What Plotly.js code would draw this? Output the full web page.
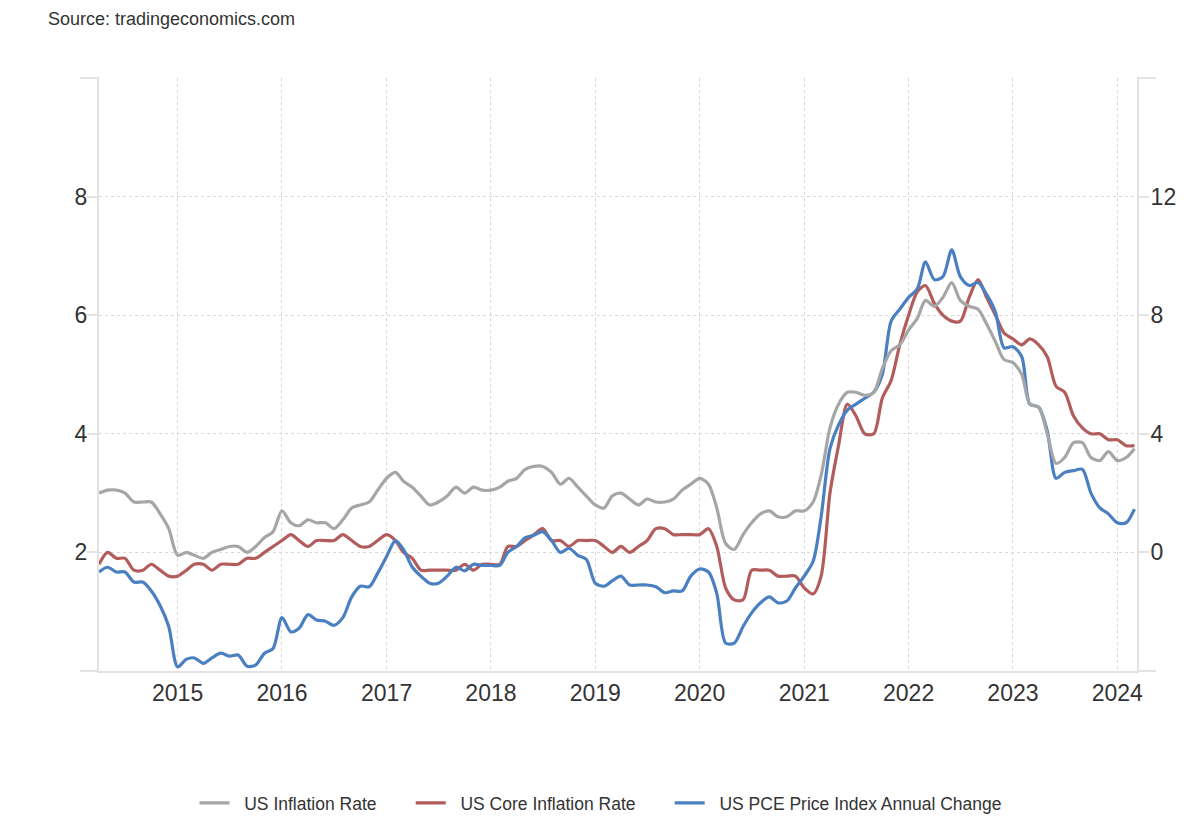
<!DOCTYPE html>
<html>
<head>
<meta charset="utf-8">
<script src="https://cdn.plot.ly/plotly-3.0.1.min.js"></script>
<style>
  html, body { margin: 0; padding: 0; background: #ffffff; }
  #chart { width: 1200px; height: 820px; }
</style>
</head>
<body>
<div id="chart"></div>
<script>
// Monthly observations, April 2014 – March 2024
const startYear = 2014, startMonth = 4, monthCount = 120;

// US Inflation Rate (CPI YoY, %) – right axis
const cpi = [
  2.0, 2.1, 2.1, 2.0, 1.7, 1.7, 1.7, 1.3, 0.8,                 // 2014 Apr–Dec
  -0.1, 0.0, -0.1, -0.2, 0.0, 0.1, 0.2, 0.2, 0.0, 0.2, 0.5, 0.7, // 2015
  1.4, 1.0, 0.9, 1.1, 1.0, 1.0, 0.8, 1.1, 1.5, 1.6, 1.7, 2.1,    // 2016
  2.5, 2.7, 2.4, 2.2, 1.9, 1.6, 1.7, 1.9, 2.2, 2.0, 2.2, 2.1,    // 2017
  2.1, 2.2, 2.4, 2.5, 2.8, 2.9, 2.9, 2.7, 2.3, 2.5, 2.2, 1.9,    // 2018
  1.6, 1.5, 1.9, 2.0, 1.8, 1.6, 1.8, 1.7, 1.7, 1.8, 2.1, 2.3,    // 2019
  2.5, 2.3, 1.5, 0.3, 0.1, 0.6, 1.0, 1.3, 1.4, 1.2, 1.2, 1.4,    // 2020
  1.4, 1.7, 2.6, 4.2, 5.0, 5.4, 5.4, 5.3, 5.4, 6.2, 6.8, 7.0,    // 2021
  7.5, 7.9, 8.5, 8.3, 8.6, 9.1, 8.5, 8.3, 8.2, 7.7, 7.1, 6.5,    // 2022
  6.4, 6.0, 5.0, 4.9, 4.0, 3.0, 3.2, 3.7, 3.7, 3.2, 3.1, 3.4,    // 2023
  3.1, 3.2, 3.5                                                  // 2024 Jan–Mar
];

// US Core Inflation Rate (%) – left axis
const core = [
  1.8, 2.0, 1.9, 1.9, 1.7, 1.7, 1.8, 1.7, 1.6,
  1.6, 1.7, 1.8, 1.8, 1.7, 1.8, 1.8, 1.8, 1.9, 1.9, 2.0, 2.1,
  2.2, 2.3, 2.2, 2.1, 2.2, 2.2, 2.2, 2.3, 2.2, 2.1, 2.1, 2.2,
  2.3, 2.2, 2.0, 1.9, 1.7, 1.7, 1.7, 1.7, 1.7, 1.8, 1.7, 1.8,
  1.8, 1.8, 2.1, 2.1, 2.2, 2.3, 2.4, 2.2, 2.2, 2.1, 2.2, 2.2,
  2.2, 2.1, 2.0, 2.1, 2.0, 2.1, 2.2, 2.4, 2.4, 2.3, 2.3, 2.3,
  2.3, 2.4, 2.1, 1.4, 1.2, 1.2, 1.7, 1.7, 1.7, 1.6, 1.6, 1.6,
  1.4, 1.3, 1.6, 3.0, 3.8, 4.5, 4.3, 4.0, 4.0, 4.6, 4.9, 5.5,
  6.0, 6.4, 6.5, 6.2, 6.0, 5.9, 5.9, 6.3, 6.6, 6.3, 6.0, 5.7,
  5.6, 5.5, 5.6, 5.5, 5.3, 4.8, 4.7, 4.3, 4.1, 4.0, 4.0, 3.9,
  3.9, 3.8, 3.8
];

// US PCE Price Index Annual Change (%) – left axis
const pce = [
  1.67, 1.75, 1.67, 1.67, 1.5, 1.5, 1.35, 1.1, 0.75,
  0.07, 0.2, 0.22, 0.13, 0.22, 0.3, 0.25, 0.27, 0.08, 0.1, 0.3, 0.38,
  0.9, 0.66, 0.72, 0.95, 0.86, 0.84, 0.77, 0.9, 1.25, 1.43, 1.42, 1.65,
  1.93, 2.2, 2.05, 1.75, 1.6, 1.48, 1.48, 1.6, 1.75, 1.69, 1.8, 1.78,
  1.78, 1.78, 2.0, 2.1, 2.25, 2.29, 2.35, 2.2, 2.0, 2.07, 1.95, 1.88,
  1.48, 1.43, 1.52, 1.6, 1.45, 1.45, 1.45, 1.42, 1.32, 1.35, 1.35, 1.6,
  1.72, 1.67, 1.31, 0.47, 0.47, 0.75, 0.98, 1.15, 1.25, 1.15, 1.18, 1.4,
  1.6, 1.85, 2.6, 3.75, 4.15, 4.4, 4.5, 4.6, 4.7, 5.0, 5.9, 6.1,
  6.3, 6.45, 6.9, 6.6, 6.65, 7.1, 6.65, 6.5, 6.55, 6.35, 6.05, 5.45,
  5.47, 5.3, 4.5, 4.45, 4.05, 3.25, 3.35, 3.38, 3.4, 3.0, 2.75, 2.65,
  2.5, 2.5, 2.73
];

const seriesNames = ["US Inflation Rate", "US Core Inflation Rate", "US PCE Price Index Annual Change"];
const seriesColors = ["#a6a6a6", "#b35c5c", "#4a7fc1"];

const yearTicks = ["2015", "2016", "2017", "2018", "2019", "2020", "2021", "2022", "2023", "2024"];
const leftTicks = [2, 4, 6, 8, 10];
const leftTickText = ["2", "4", "6", "8", ""];
const rightTicks = [0, 4, 8, 12];

// build month dates
const dates = [];
for (let i = 0; i < monthCount; i++) {
  const m0 = startMonth - 1 + i;
  const y = startYear + Math.floor(m0 / 12);
  const m = (m0 % 12) + 1;
  dates.push(y + "-" + String(m).padStart(2, "0") + "-01");
}

const FONT = '"Liberation Sans", Arial, Helvetica, sans-serif';
const lineStyle = (c) => ({ color: c, width: 3.2, shape: "spline", smoothing: 0.8 });

// legend spacing: non-breaking spaces around entry names
const NB = "\u00a0";
const legendLabel = (s, last) => NB + NB + s + (last ? "" : NB.repeat(6));

const traces = [
  { x: dates, y: cpi, name: legendLabel(seriesNames[0]), type: "scatter", mode: "lines", yaxis: "y2", line: lineStyle(seriesColors[0]) },
  { x: dates, y: core, name: legendLabel(seriesNames[1]), type: "scatter", mode: "lines", yaxis: "y", line: lineStyle(seriesColors[1]) },
  { x: dates, y: pce, name: legendLabel(seriesNames[2], true), type: "scatter", mode: "lines", yaxis: "y", line: lineStyle(seriesColors[2]) }
];

const plotW = 1200 - 99 - 63;
const plotH = 820 - 78 - 149;
const ext = 19 / plotW;
const axisCol = "#e3e3e3";
const gridCol = "#d9d9d9";

const layout = {
  width: 1200, height: 820,
  margin: { l: 99, r: 63, t: 78, b: 149, pad: 0, autoexpand: false },
  paper_bgcolor: "#ffffff", plot_bgcolor: "#ffffff",
  font: { family: FONT, color: "#333333" },
  showlegend: true,
  legend: {
    orientation: "h", x: 0.5 - 17 / plotW, xanchor: "center",
    y: (671 - 803) / plotH, yanchor: "middle",
    font: { family: FONT, size: 17.5, color: "#333333" },
    itemwidth: 30
  },
  xaxis: {
    type: "date",
    range: ["2014-04-01", "2024-03-10"],
    tickvals: yearTicks.map(y => y + "-01-01"),
    ticktext: yearTicks,
    ticks: "",
    showline: true, linecolor: axisCol, linewidth: 2,
    showgrid: true, gridcolor: gridCol, griddash: "dot", gridwidth: 1,
    zeroline: false,
    tickfont: { family: FONT, size: 23, color: "#333333" },
    fixedrange: true
  },
  yaxis: {
    range: [0, 10],
    tickvals: leftTicks, ticktext: leftTickText,
    ticks: "outside", ticklen: 10, tickwidth: 2, tickcolor: axisCol,
    showline: true, linecolor: axisCol, linewidth: 2,
    showgrid: true, gridcolor: gridCol, griddash: "dot", gridwidth: 1,
    zeroline: false,
    ticklabelstandoff: -5,
    tickfont: { family: FONT, size: 23, color: "#333333" },
    fixedrange: true
  },
  yaxis2: {
    range: [-4, 16], overlaying: "y", side: "right",
    tickvals: rightTicks,
    ticks: "outside", ticklen: 10, tickwidth: 2, tickcolor: axisCol,
    showline: true, linecolor: axisCol, linewidth: 2,
    showgrid: false, zeroline: false,
    ticklabelstandoff: -3,
    tickfont: { family: FONT, size: 23, color: "#333333" },
    fixedrange: true
  },
  shapes: [
    { type: "line", xref: "paper", yref: "paper", x0: -ext, x1: 0, y0: 1, y1: 1, line: { color: axisCol, width: 2 } },
    { type: "line", xref: "paper", yref: "paper", x0: -ext, x1: 0, y0: 0, y1: 0, line: { color: axisCol, width: 2 } },
    { type: "line", xref: "paper", yref: "paper", x0: 1, x1: 1 + ext, y0: 1, y1: 1, line: { color: axisCol, width: 2 } },
    { type: "line", xref: "paper", yref: "paper", x0: 1, x1: 1 + ext, y0: 0, y1: 0, line: { color: axisCol, width: 2 } }
  ],
  annotations: [
    {
      text: "Source: tradingeconomics.com",
      xref: "paper", yref: "paper",
      x: (46 - 99) / plotW, xanchor: "left",
      y: (671 - 19) / plotH, yanchor: "middle",
      showarrow: false,
      font: { family: FONT, size: 18, color: "#333333" }
    }
  ]
};

Plotly.newPlot("chart", traces, layout, { displayModeBar: false, staticPlot: true });
</script>
</body>
</html>
